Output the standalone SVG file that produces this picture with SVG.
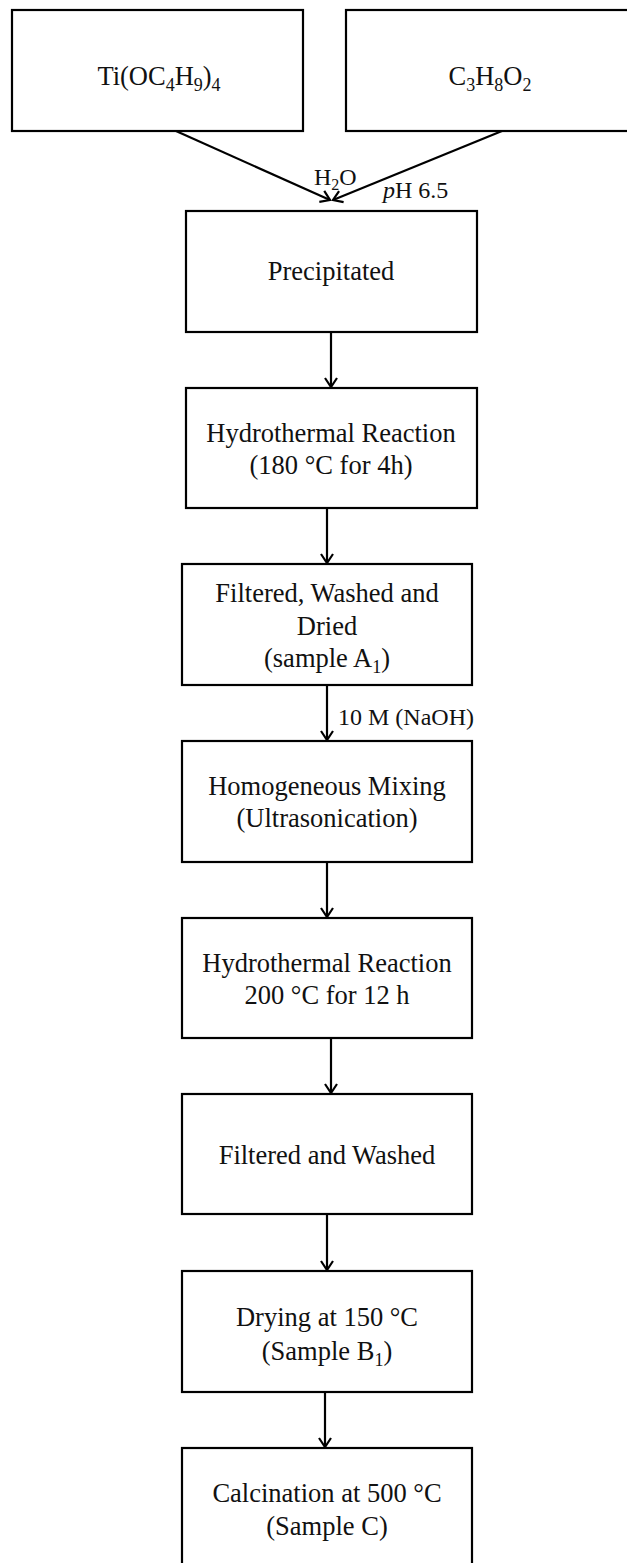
<svg xmlns="http://www.w3.org/2000/svg" width="627" height="1563" viewBox="0 0 627 1563">
<style>
.box{fill:#fff;stroke:#000;stroke-width:2.2}
.t{font-family:"Liberation Serif","Times New Roman",serif;font-size:26.5px;fill:#111;text-anchor:middle}
.l{font-family:"Liberation Serif","Times New Roman",serif;font-size:24px;fill:#111}
.c{stroke:#000;stroke-width:2.2;fill:none;marker-end:url(#ah)}
</style>
<defs>
<marker id="ah" markerUnits="userSpaceOnUse" markerWidth="20" markerHeight="20" refX="0" refY="0" viewBox="-12 -10 14 20" orient="auto">
<path d="M-9,-6 L0,0 L-9,6" fill="none" stroke="#000" stroke-width="2.2"/>
</marker>
</defs>
<rect width="627" height="1563" fill="#fff"/>
<g id="n1"><rect class="box" x="12" y="10" width="291" height="121"/>
<text class="t" x="159" y="85">Ti(OC<tspan dy="6" font-size="18">4</tspan><tspan dy="-6">H</tspan><tspan dy="6" font-size="18">9</tspan><tspan dy="-6">)</tspan><tspan dy="6" font-size="18">4</tspan></text></g>
<g id="n2"><rect class="box" x="346" y="10" width="300" height="121"/>
<text class="t" x="490" y="85">C<tspan dy="6" font-size="18">3</tspan><tspan dy="-6">H</tspan><tspan dy="6" font-size="18">8</tspan><tspan dy="-6">O</tspan><tspan dy="6" font-size="18">2</tspan></text></g>
<g id="n3"><rect class="box" x="186" y="211" width="291" height="121"/>
<text class="t" x="331" y="280">Precipitated</text></g>
<g id="n4"><rect class="box" x="186" y="388" width="291" height="120"/>
<text class="t" x="331" y="442">Hydrothermal Reaction</text>
<text class="t" x="331" y="474">(180 °C for 4h)</text></g>
<g id="n5"><rect class="box" x="182" y="564" width="290" height="121"/>
<text class="t" x="327" y="602">Filtered, Washed and</text>
<text class="t" x="327" y="635">Dried</text>
<text class="t" x="327" y="667">(sample A<tspan dy="6" font-size="18">1</tspan><tspan dy="-6">)</tspan></text></g>
<g id="n6"><rect class="box" x="182" y="741" width="290" height="121"/>
<text class="t" x="327" y="795">Homogeneous Mixing</text>
<text class="t" x="327" y="827">(Ultrasonication)</text></g>
<g id="n7"><rect class="box" x="182" y="918" width="290" height="120"/>
<text class="t" x="327" y="972">Hydrothermal Reaction</text>
<text class="t" x="327" y="1004">200 °C for 12 h</text></g>
<g id="n8"><rect class="box" x="182" y="1094" width="290" height="120"/>
<text class="t" x="327" y="1164">Filtered and Washed</text></g>
<g id="n9"><rect class="box" x="182" y="1271" width="290" height="121"/>
<text class="t" x="327" y="1326">Drying at 150 °C</text>
<text class="t" x="327" y="1360">(Sample B<tspan dy="6" font-size="18">1</tspan><tspan dy="-6">)</tspan></text></g>
<g id="n10"><rect class="box" x="182" y="1448" width="290" height="130"/>
<text class="t" x="327" y="1502">Calcination at 500 °C</text>
<text class="t" x="327" y="1535">(Sample C)</text></g>
<g id="connectors">
<line class="c" x1="176" y1="131" x2="330" y2="200"/>
<line class="c" x1="502" y1="131" x2="333" y2="200"/>
<line class="c" x1="331" y1="332" x2="331" y2="387"/>
<line class="c" x1="327" y1="508" x2="327" y2="563"/>
<line class="c" x1="327" y1="685" x2="327" y2="740"/>
<line class="c" x1="327" y1="862" x2="327" y2="917"/>
<line class="c" x1="331" y1="1038" x2="331" y2="1093"/>
<line class="c" x1="327" y1="1214" x2="327" y2="1270"/>
<line class="c" x1="325" y1="1392" x2="325" y2="1447"/>
<text class="l" x="314" y="185">H<tspan dy="5" font-size="16">2</tspan><tspan dy="-5">O</tspan></text>
<text class="l" x="383" y="198"><tspan font-style="italic">p</tspan>H 6.5</text>
<text class="l" x="338" y="725">10 M (NaOH)</text>
</g>
</svg>
